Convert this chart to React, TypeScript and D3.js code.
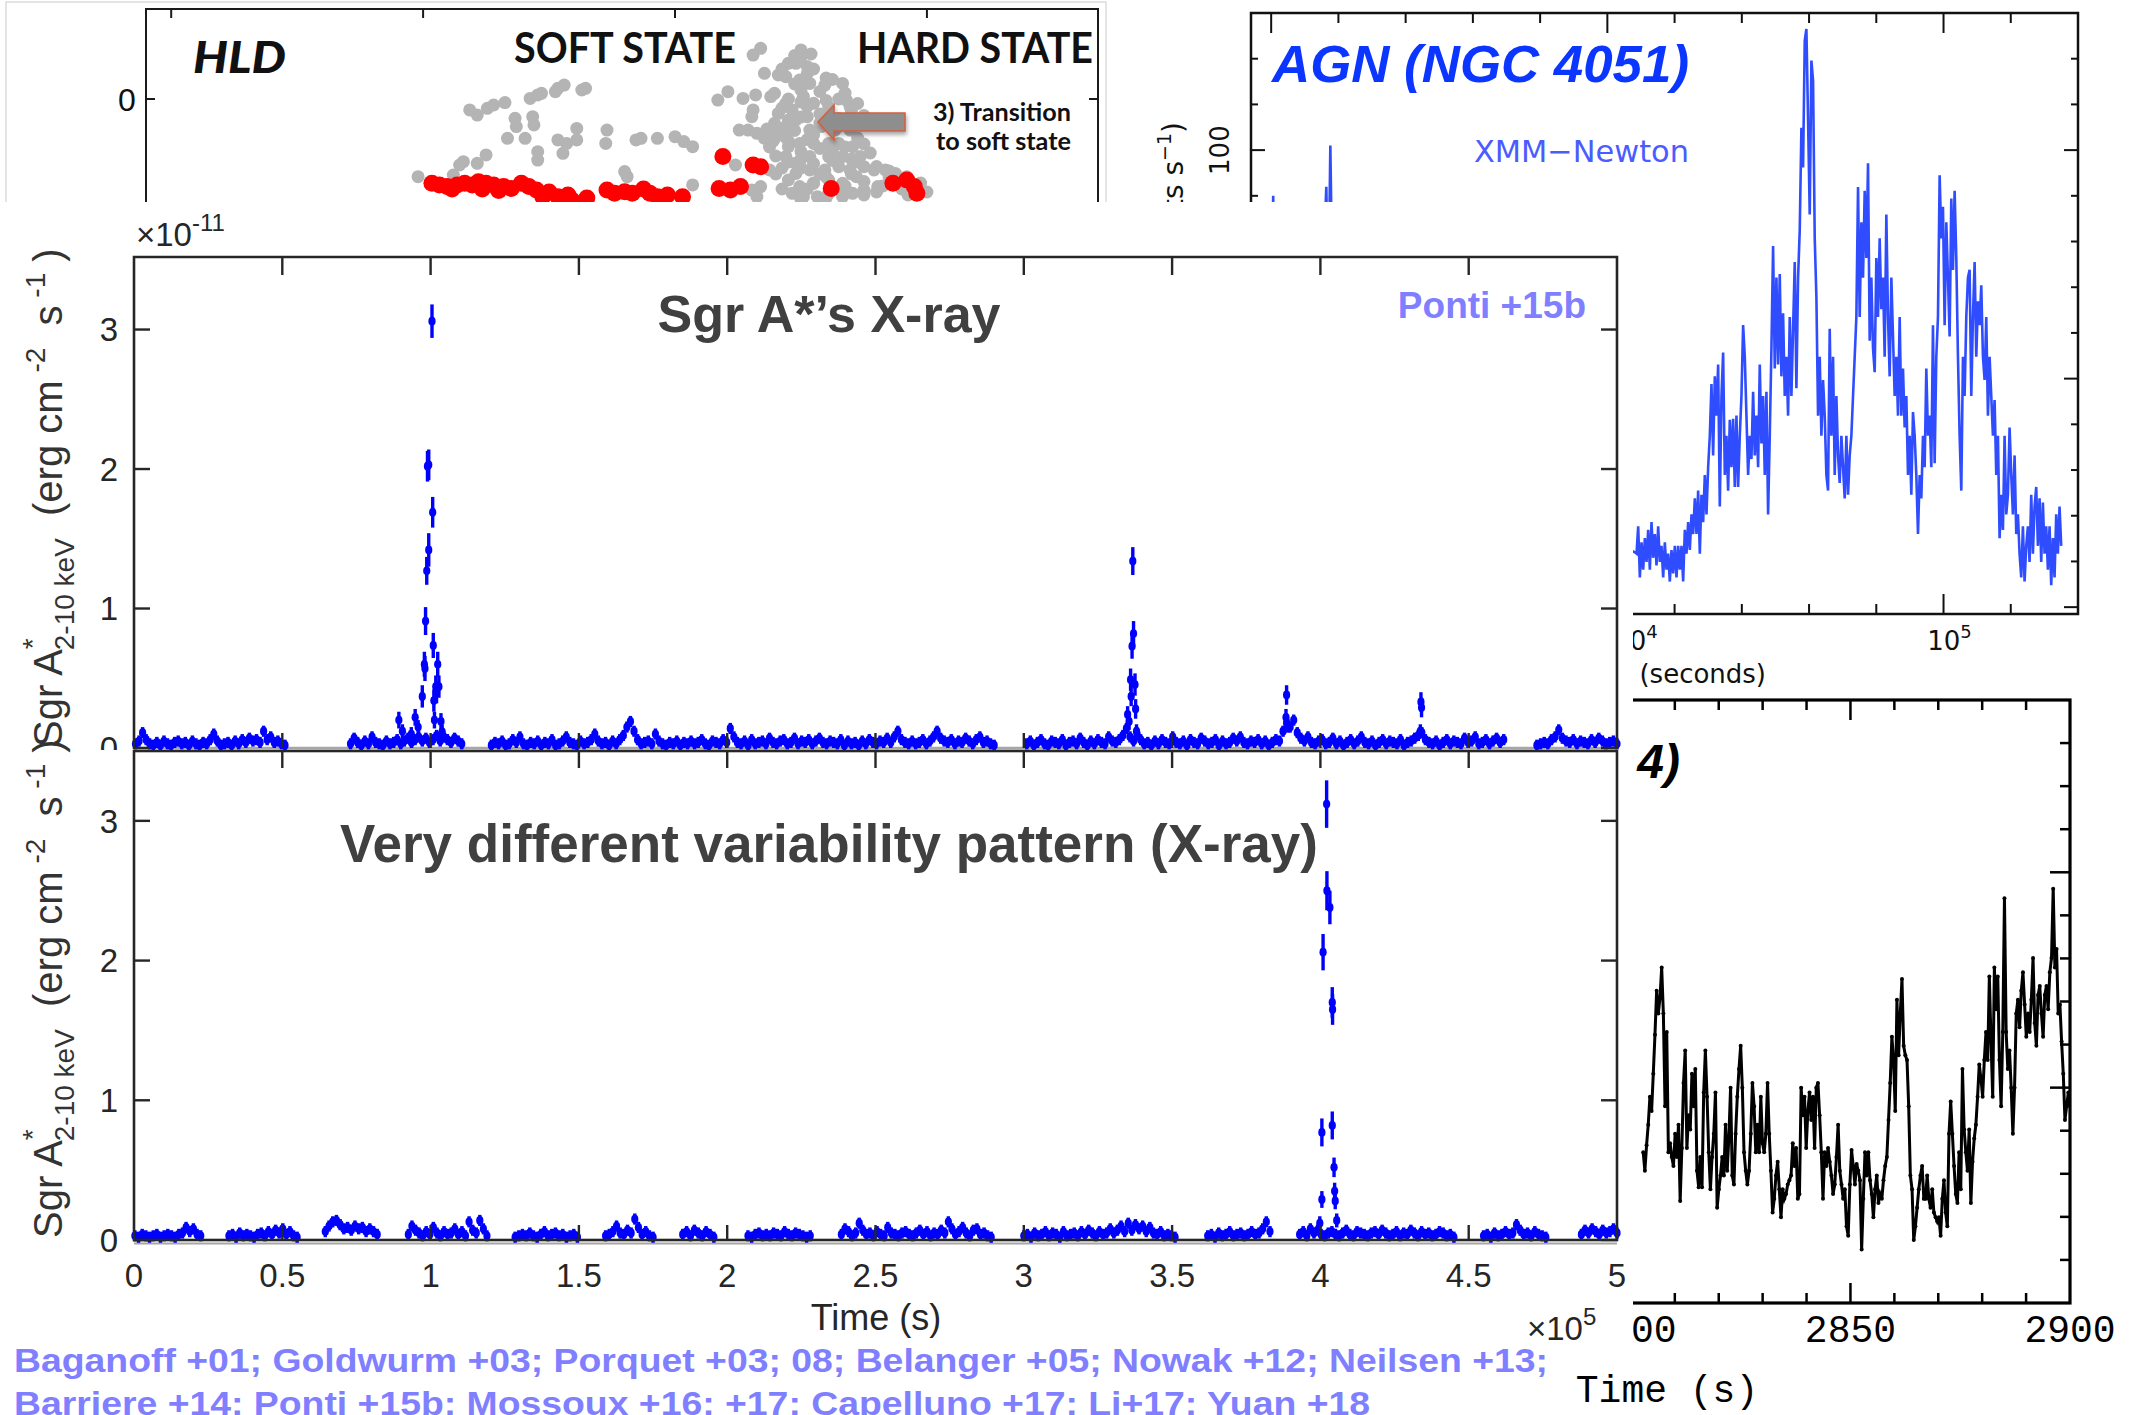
import React from "react";
import * as d3 from "d3";

const W = 2138;
const H = 1415;
const SANS = "'Liberation Sans', Arial, Helvetica, sans-serif";
const DEJAVU = "'DejaVu Sans', Verdana, sans-serif";
const MONO = "'Liberation Mono', 'DejaVu Sans Mono', monospace";
const LATO = "Lato, 'Open Sans', sans-serif";

// ---------------- Panel 1: hardness–luminosity diagram (HLD) ----------------
const HLD_X_TICKS = [0.2, 0.4, 0.6, 0.8];
const HLD_Y_TICKS = [0];
// [hardness, log intensity]
const HLD_GRAY: [number, number][] = [
  [0.396, -0.518], [0.424, -0.507], [0.429, -0.44], [0.432, -0.418], [0.443, -0.429], [0.45, -0.373],
  [0.437, -0.073], [0.443, -0.107], [0.451, -0.062], [0.456, -0.04], [0.465, -0.024], [0.473, -0.129],
  [0.474, -0.184], [0.467, -0.262], [0.481, -0.262], [0.487, -0.118], [0.488, -0.173], [0.491, -0.351],
  [0.491, -0.407], [0.485, 0.004], [0.491, 0.027], [0.494, 0.038], [0.505, 0.049], [0.507, 0.071],
  [0.512, 0.093], [0.526, 0.06], [0.529, 0.071], [0.507, -0.273], [0.514, -0.296], [0.522, -0.196],
  [0.522, -0.273], [0.511, -0.362], [0.546, -0.207], [0.545, -0.296], [0.569, -0.273], [0.573, -0.262],
  [0.586, -0.262], [0.6, -0.251], [0.607, -0.284], [0.614, -0.318], [0.56, -0.484], [0.562, -0.518],
  [0.614, -0.573], [0.634, -0.007], [0.642, 0.049], [0.654, 0.004], [0.662, 0.293], [0.668, 0.338],
  [0.671, 0.171], [0.664, 0.027], [0.662, -0.073], [0.661, -0.118], [0.651, -0.207], [0.658, -0.207],
  [0.665, -0.229], [0.671, -0.262], [0.679, -0.262], [0.675, -0.473], [0.668, -0.584], [0.661, -0.607],
  [0.665, -0.651], [0.648, -0.44],
  [0.70, 0.327], [0.69, 0.238], [0.696, 0.238], [0.705, 0.216], [0.682, 0.16], [0.688, 0.149],
  [0.699, 0.127], [0.707, 0.104], [0.719, 0.093], [0.733, 0.104], [0.679, 0.038], [0.676, 0.016],
  [0.688, -0.029], [0.693, -0.073], [0.702, 0.016], [0.71, -0.029], [0.722, -0.051], [0.736, -0.007],
  [0.739, -0.051], [0.741, -0.14], [0.682, -0.096], [0.679, -0.162], [0.688, -0.184], [0.696, -0.14],
  [0.705, -0.118], [0.707, -0.207], [0.716, -0.184], [0.727, -0.207], [0.739, -0.207], [0.741, -0.318],
  [0.73, -0.296], [0.722, -0.296], [0.71, -0.296], [0.699, -0.296], [0.69, -0.318], [0.688, -0.384],
  [0.696, -0.429], [0.707, -0.384], [0.722, -0.384], [0.733, -0.384], [0.747, -0.384], [0.75, -0.451],
  [0.739, -0.473], [0.73, -0.451], [0.719, -0.473], [0.707, -0.473], [0.696, -0.496], [0.69, -0.54],
  [0.699, -0.584], [0.71, -0.562], [0.722, -0.54], [0.733, -0.562], [0.744, -0.518], [0.758, -0.473],
  [0.767, -0.473], [0.775, -0.496], [0.784, -0.518], [0.693, -0.629], [0.702, -0.651], [0.713, -0.651],
  [0.722, -0.629], [0.733, -0.651], [0.741, -0.629], [0.75, -0.607], [0.761, -0.584], [0.778, -0.562],
  [0.792, -0.584],
  [0.695, 0.10], [0.715, 0.05], [0.73, 0.0], [0.70, -0.02], [0.685, -0.06], [0.715, -0.10], [0.73, -0.13],
  [0.695, -0.21], [0.71, -0.24], [0.745, -0.26], [0.70, -0.35], [0.725, -0.34], [0.745, -0.42],
  [0.71, -0.43], [0.68, -0.50], [0.72, -0.52], [0.75, -0.55], [0.77, -0.52], [0.705, -0.60],
  [0.73, -0.60], [0.76, -0.62], [0.78, -0.60], [0.69, -0.42], [0.687, -0.25], [0.675, -0.32],
  [0.74, -0.08], [0.725, 0.13], [0.705, 0.17], [0.70, 0.28], [0.708, 0.30],
  [0.685, 0.2], [0.71, 0.2], [0.72, 0.14], [0.70, 0.06], [0.69, 0.0], [0.705, -0.05], [0.72, -0.01],
  [0.735, 0.04], [0.745, -0.03], [0.75, -0.11], [0.73, -0.18], [0.715, -0.16], [0.70, -0.12], [0.69, -0.14],
  [0.68, -0.22], [0.69, -0.28], [0.705, -0.27], [0.715, -0.33], [0.735, -0.32], [0.75, -0.3], [0.755, -0.36],
  [0.74, -0.4], [0.725, -0.41], [0.70, -0.4], [0.685, -0.46], [0.70, -0.46], [0.715, -0.5], [0.74, -0.5],
  [0.76, -0.45], [0.77, -0.48], [0.78, -0.55], [0.765, -0.58], [0.75, -0.64], [0.72, -0.66], [0.70, -0.67],
  [0.685, -0.6], [0.71, -0.56], [0.735, -0.58], [0.795, -0.56], [0.8, -0.62], [0.785, -0.64], [0.68, -0.38],
  [0.678, -0.28], [0.673, -0.2], [0.695, 0.29],
];
const HLD_RED: [number, number][] = [
  [0.407, -0.562], [0.413, -0.573], [0.419, -0.584], [0.427, -0.573], [0.433, -0.562], [0.439, -0.573],
  [0.444, -0.551], [0.45, -0.562], [0.456, -0.573], [0.464, -0.584], [0.47, -0.596], [0.478, -0.562],
  [0.484, -0.584], [0.49, -0.607], [0.495, -0.651], [0.507, -0.651], [0.515, -0.64], [0.518, -0.673],
  [0.546, -0.607], [0.552, -0.629], [0.56, -0.618], [0.566, -0.629], [0.58, -0.629], [0.586, -0.651],
  [0.594, -0.64], [0.606, -0.651], [0.638, -0.384], [0.662, -0.44], [0.668, -0.451], [0.635, -0.596],
  [0.644, -0.607], [0.652, -0.584], [0.724, -0.596], [0.773, -0.562], [0.784, -0.54], [0.79, -0.584],
  [0.792, -0.629], [0.423, -0.6], [0.447, -0.6], [0.46, -0.61], [0.5, -0.62], [0.53, -0.66], [0.575, -0.6],
];

// ---------------- Panel 2: AGN (NGC 4051) light curve ----------------
const AGN_X_TICKS = [0, 10, 20, 30, 40, 50, 60, 70, 80, 90, 100, 110]; // ks
const AGN_X_MAJOR = [0, 50, 100];
const AGN_Y_TICKS = [0, 10, 20, 30, 40, 50, 60, 70, 80, 90, 100, 110, 120];
const AGN_Y_MAJOR = [0, 50, 100];
// [time (ks), count rate]
const AGN_EARLY: [number, number][] = [
  [-2.9, 60], [-1.5, 72], [0.0, 66], [0.3, 90], [0.6, 64], [1.5, 58], [3, 70], [4.5, 55], [6, 62],
  [7.5, 68], [7.9, 80], [8.2, 92], [8.5, 66], [8.8, 101], [9.1, 70], [11, 60], [14, 64], [18, 55],
  [22, 52], [26, 46], [30, 42], [34, 38], [38, 30], [42, 26], [46, 20], [50, 15], [54.1, 12],
];
const AGN_MAIN_START = 54.34; // ks, first bin of the evenly binned part
const AGN_MAIN_BIN = 0.2477; // ks
const AGN_MAIN_RATE = [
  11.7, 17.7, 6.5, 14.2, 8.2, 15.1, 9.9, 16.9, 8.2, 18.6, 10.8, 16.0, 9.1, 17.7, 9.9, 13.4, 6.5, 14.2, 8.2, 11.7,
  5.6, 12.5, 7.4, 13.4, 6.5, 13.4, 8.2, 13.4, 5.6, 16.9, 11.7, 18.6, 12.5, 20.3, 16.0, 23.8, 16.0, 25.5, 11.7, 24.6,
  18.6, 28.9, 20.3, 30.6, 37.5, 48.8, 33.2, 50.5, 41.9, 53.1, 22.0, 46.2, 55.7, 28.9, 37.5, 25.5, 41.0, 30.6, 41.2, 26.3,
  41.9, 26.3, 37.5, 46.2, 61.7, 54.8, 41.9, 28.9, 37.5, 32.4, 47.1, 33.2, 41.9, 30.6, 53.1, 35.8, 46.2, 28.9, 47.1, 20.3,
  37.5, 56.6, 79.0, 52.2, 72.1, 53.1, 72.9, 50.5, 64.3, 46.2, 54.8, 41.9, 63.5, 46.2, 60.9, 75.5, 47.9, 72.1, 82.5, 104.9,
  96.2, 123.9, 126.5, 106.6, 85.9, 119.6, 115.2, 80.7, 67.8, 41.9, 54.8, 37.5, 49.7, 41.9, 28.9, 25.5, 60.9, 37.5, 54.8, 28.9,
  46.2, 33.2, 27.2, 37.5, 30.6, 23.8, 37.5, 24.6, 33.2, 37.5, 46.2, 54.8, 63.5, 91.9, 63.5, 84.2, 72.1, 91.1, 76.4, 97.1,
  58.3, 72.1, 56.6, 51.4, 76.4, 63.5, 80.7, 65.2, 72.1, 54.8, 85.9, 63.5, 50.5, 72.1, 59.2, 46.2, 54.8, 41.9, 63.5, 41.9,
  52.2, 39.3, 46.2, 28.9, 37.5, 24.6, 42.7, 37.5, 28.9, 16.0, 28.9, 23.8, 37.5, 30.6, 52.2, 37.5, 41.9, 30.6, 61.7, 31.5,
  54.8, 63.5, 94.5, 80.7, 87.6, 61.7, 84.2, 72.1, 59.2, 89.4, 73.8, 91.1, 76.4, 54.8, 37.5, 25.5, 54.8, 46.2, 63.5, 72.1,
  73.8, 46.2, 63.5, 75.5, 54.8, 66.9, 61.7, 70.4, 54.8, 49.7, 63.5, 41.9, 54.8, 46.2, 37.5, 45.3, 28.9, 37.5, 15.1, 24.6,
  16.9, 37.5, 20.3, 24.6, 39.3, 28.9, 20.3, 33.2, 16.0, 20.3, 11.7, 6.5, 17.7, 5.6, 13.4, 17.7, 9.9, 24.6, 11.7, 22.0,
  26.3, 13.4, 23.8, 9.9, 22.9, 11.7, 17.7, 8.2, 17.7, 4.8, 15.1, 6.5, 20.3, 11.7, 22.0, 13.4,
];

// ---------------- Panel 3: X-ray binary light curve (black) ----------------
const GX_X_TICKS = [2800, 2810, 2820, 2830, 2840, 2850, 2860, 2870, 2880, 2890];
const GX_X_MAJOR = [2800, 2850, 2900];
const GX_X_LABELS = [2800, 2850, 2900];
const GX_Y_TICKS = [10, 20, 30, 40, 50, 60, 70, 80, 90, 100, 110, 120, 130];
const GX_Y_MAJOR = [50, 100];
const GX_T_START = 2802.8;
const GX_T_END = 2900;
const GX_VALUES = [
  35.0, 30.7, 36.6, 41.4, 47.9, 44.6, 53.2, 62.3, 72.5, 67.2, 70.9, 77.9, 67.2, 45.7, 62.9, 35.0, 37.1, 33.9, 31.8, 39.3,
  33.9, 41.4, 23.7, 36.0, 51.1, 58.6, 36.0, 43.6, 40.3, 53.2, 45.7, 54.3, 30.7, 26.9, 33.9, 26.9, 48.9, 58.6, 47.9, 35.0,
  26.4, 33.9, 39.3, 48.9, 22.1, 26.4, 29.6, 33.9, 29.6, 41.4, 30.7, 38.7, 50.0, 29.6, 27.5, 39.3, 47.9, 54.3, 59.7, 50.0,
  35.0, 30.7, 27.5, 30.7, 39.3, 51.1, 45.7, 35.0, 41.4, 35.0, 47.9, 37.1, 35.0, 39.3, 51.1, 39.3, 30.7, 21.0, 24.2, 29.6,
  32.8, 26.4, 19.9, 26.4, 24.2, 25.3, 27.5, 28.5, 29.6, 37.1, 31.8, 36.0, 24.2, 25.3, 50.0, 43.6, 47.9, 36.0, 44.6, 48.9,
  42.5, 47.9, 36.0, 50.0, 51.1, 43.6, 35.0, 24.2, 35.0, 31.8, 36.0, 32.8, 29.6, 25.3, 27.5, 33.9, 41.4, 30.7, 27.5, 24.2,
  26.4, 17.8, 15.6, 27.5, 35.5, 31.8, 27.5, 32.3, 30.7, 28.5, 12.4, 24.2, 35.0, 29.6, 35.0, 28.5, 25.3, 19.9, 26.4, 29.6,
  23.2, 25.3, 24.2, 28.5, 31.8, 33.9, 42.5, 51.1, 61.8, 56.4, 44.6, 70.4, 57.5, 67.2, 75.2, 59.7, 57.5, 56.4, 45.7, 29.6,
  26.4, 14.6, 17.8, 22.1, 26.4, 29.6, 31.8, 24.2, 24.2, 29.6, 24.2, 22.1, 26.4, 21.0, 19.9, 18.9, 19.9, 15.6, 24.2, 28.5,
  21.0, 17.8, 39.3, 46.8, 39.3, 31.8, 25.3, 23.2, 35.0, 26.4, 54.3, 40.3, 35.0, 30.7, 40.3, 23.2, 32.8, 38.2, 41.4, 47.9,
  55.4, 52.1, 47.9, 56.4, 62.9, 56.4, 75.8, 60.7, 47.9, 77.9, 68.2, 75.8, 56.4, 45.7, 62.9, 94.0, 62.9, 54.3, 58.6, 50.0,
  39.3, 50.0, 67.2, 70.4, 64.0, 72.5, 76.8, 69.3, 61.8, 67.2, 62.9, 70.4, 80.1, 65.0, 59.7, 71.5, 73.6, 67.2, 61.8, 71.5,
  73.6, 68.2, 76.8, 80.1, 96.2, 77.9, 82.2, 67.2, 69.3, 60.7, 53.2, 42.5, 45.7, 48.9, 45.7,
];

// ---------------- Main: Sgr A* X-ray light curves ----------------
const MAIN_X_TICKS = [0, 0.5, 1, 1.5, 2, 2.5, 3, 3.5, 4, 4.5, 5];
const MAIN_X_LABELS = ["0", "0.5", "1", "1.5", "2", "2.5", "3", "3.5", "4", "4.5", "5"];
const MAIN_Y_TICKS = [0, 1, 2, 3];
const BASE_ERR = 0.04; // typical 1-sigma error of quiescent bins (1e-11 units)

// observation windows (time in 1e5 s) and quiescent fluxes (in 0.01 x 1e-11 erg cm-2 s-1)
const TOP_SEGMENTS: [number, number][] = [[0.005, 0.509], [0.73, 1.105], [1.205, 2.9], [3.01, 4.618], [4.73, 5.0]];
const TOP_BASE: number[][] = [
  [3, 5, 11, 6, 3, 2, 4, 2, 5, 3, 2, 4, 5, 3, 4, 2, 5, 3, 2, 4, 3, 6, 10, 5, 2, 3, 4, 2, 5, 3, 6, 4, 7, 5, 6, 4, 12, 6, 8, 4, 5, 3, 2],
  [3, 7, 4, 2, 5, 3, 8, 4, 3, 2, 5, 3, 4, 6, 3, 5, 7, 4, 6, 8, 5, 7, 4, 6, 9, 5, 8, 6, 4, 7, 5, 3],
  [2, 4, 3, 5, 2, 3, 6, 4, 8, 3, 2, 4, 3, 5, 2, 4, 3, 6, 2, 3, 5, 8, 4, 3, 2, 5, 3, 4, 6, 10, 5, 3, 4, 2, 5, 3, 6,
    9, 15, 19, 12, 6, 3, 4, 5, 3, 10, 5, 3, 2, 4, 3, 5, 2, 4, 3, 5, 3, 4, 6, 3, 2, 5, 4, 3, 6, 4, 14, 8, 4, 3, 5, 2,
    6, 3, 4, 5, 3, 7, 4, 3, 5, 6, 3, 4, 7, 3, 5, 4, 6, 3, 5, 7, 4, 3, 5, 4, 3, 6, 2, 5, 3, 4, 2, 5, 3, 6, 4, 3, 5, 4,
    7, 4, 8, 12, 6, 4, 3, 5, 3, 4, 6, 3, 5, 8, 12, 7, 5, 4, 6, 3, 5, 4, 7, 5, 3, 6, 8, 4, 5, 3, 2],
  [3, 5, 2, 4, 6, 3, 2, 5, 4, 3, 6, 2, 4, 5, 3, 7, 4, 2, 5, 3, 6, 4, 3, 8, 5, 4, 6, 9, 14, 8, 5, 10, 6, 3, 4, 2, 5,
    3, 6, 4, 3, 8, 4, 3, 5, 2, 6, 4, 3, 7, 5, 3, 4, 6, 2, 5, 3, 4, 7, 5, 8, 4, 3, 5, 4, 6, 3, 5, 2, 4, 6, 5, 12, 18,
    15, 20, 11, 7, 5, 8, 4, 3, 5, 6, 3, 4, 7, 3, 5, 2, 4, 6, 3, 5, 8, 4, 3, 5, 2, 4, 6, 3, 5, 4, 3, 6, 2, 4, 5, 7, 9,
    11, 6, 4, 3, 5, 2, 4, 6, 3, 5, 4, 3, 7, 4, 5, 8, 3, 4, 6, 3, 5, 7, 4, 6],
  [2, 3, 4, 3, 6, 8, 13, 7, 5, 4, 6, 3, 5, 4, 3, 6, 4, 7, 5, 3, 4, 5, 3],
];
// flare bins: [time (1e5 s), flux (1e-11), error]
const TOP_FLARES: [number, number, number][] = [
  [0.893, 0.2, 0.06], [0.905, 0.12, 0.05], [0.935, 0.1, 0.05], [0.948, 0.22, 0.06], [0.958, 0.15, 0.05],
  [0.972, 0.37, 0.08], [0.979, 0.6, 0.09], [0.981, 0.57, 0.09], [0.983, 0.91, 0.1], [0.987, 1.27, 0.1],
  [0.9895, 2.02, 0.11], [0.9937, 1.42, 0.12], [0.9937, 2.03, 0.11], [1.0047, 3.06, 0.12], [1.007, 1.69, 0.11],
  [1.009, 0.735, 0.09], [1.011, 0.34, 0.08], [1.013, 0.2, 0.06], [1.0175, 0.44, 0.08], [1.02, 0.4, 0.08],
  [1.024, 0.6, 0.09], [1.028, 0.44, 0.08], [1.035, 0.19, 0.06], [1.039, 0.115, 0.05],
  [3.3675, 1.34, 0.1], [3.37, 0.82, 0.09], [3.365, 0.73, 0.09], [3.36, 0.49, 0.08], [3.375, 0.455, 0.08],
  [3.362, 0.37, 0.07], [3.377, 0.28, 0.07], [3.35, 0.24, 0.06], [3.355, 0.19, 0.06], [3.38, 0.12, 0.05],
  [3.886, 0.38, 0.07], [3.884, 0.22, 0.06], [3.89, 0.16, 0.05],
  [4.339, 0.33, 0.07], [4.341, 0.29, 0.07], [4.337, 0.12, 0.05],
];
const BOT_SEGMENTS: [number, number][] = [
  [0.003, 0.225], [0.32, 0.55], [0.645, 0.82], [0.925, 1.19], [1.285, 1.495], [1.59, 1.75], [1.85, 1.955],
  [2.07, 2.28], [2.385, 2.89], [3.0, 3.51], [3.62, 3.83], [3.93, 4.45], [4.55, 4.76], [4.88, 5.0],
];
const BOT_BASE: number[][] = [
  [3, 2, 4, 3, 2, 3, 4, 2, 3, 4, 3, 2, 4, 5, 9, 6, 8, 4, 3],
  [3, 4, 2, 5, 3, 4, 3, 2, 4, 5, 3, 6, 4, 7, 5, 8, 4, 6, 3, 2],
  [6, 10, 13, 14, 11, 8, 9, 7, 10, 8, 9, 6, 8, 6, 4],
  [4, 10, 7, 5, 3, 6, 4, 9, 5, 3, 6, 4, 5, 8, 4, 6, 3, 13, 7, 5, 14, 8, 3],
  [2, 3, 4, 3, 5, 3, 2, 4, 6, 3, 4, 5, 3, 4, 2, 3, 4, 2],
  [3, 4, 6, 10, 5, 4, 7, 5, 15, 9, 4, 6, 3, 2],
  [4, 6, 3, 7, 5, 3, 6, 4, 2],
  [3, 2, 4, 5, 3, 4, 3, 5, 4, 3, 6, 4, 3, 5, 4, 3, 2, 3],
  [4, 8, 6, 3, 5, 12, 7, 4, 5, 3, 6, 4, 3, 9, 5, 4, 3, 5, 6, 4, 3, 5, 7, 4, 6, 3, 5, 4, 7, 5, 13, 8, 4, 6, 9, 5, 3, 7, 8, 4, 5, 3, 2],
  [3, 4, 2, 5, 3, 4, 6, 3, 5, 4, 2, 6, 3, 4, 5, 3, 6, 4, 7, 5, 3, 6, 4, 5, 8, 5, 7, 10, 6, 12, 7, 11, 8, 10, 6, 9, 5, 4, 6, 3, 4, 3, 2],
  [3, 4, 2, 5, 3, 4, 6, 3, 4, 5, 3, 4, 6, 4, 5, 8, 13, 6],
  [4, 6, 3, 8, 5, 7, 4, 3, 5, 6, 4, 3, 5, 7, 4, 3, 6, 5, 4, 3, 5, 6, 4, 7, 5, 3, 4, 6, 3, 5, 4, 7, 5, 3, 6, 4, 5, 3, 4, 6, 5, 3, 4, 2],
  [3, 4, 2, 5, 3, 4, 6, 4, 5, 11, 7, 4, 5, 3, 6, 4, 3, 2],
  [4, 7, 5, 8, 6, 4, 7, 5, 6, 8, 5],
];
const BOT_FLARES: [number, number, number][] = [
  [4.021, 3.12, 0.17], [4.022, 2.5, 0.14], [4.032, 2.38, 0.12], [4.009, 2.06, 0.13], [4.04, 1.7, 0.11],
  [4.041, 1.65, 0.11], [4.005, 0.77, 0.1], [4.04, 0.82, 0.1], [4.046, 0.52, 0.07], [4.048, 0.35, 0.06],
  [4.05, 0.28, 0.06], [4.005, 0.29, 0.06], [4.055, 0.14, 0.05], [3.998, 0.12, 0.05],
];

const CITATION_1 = "Baganoff +01; Goldwurm +03; Porquet +03; 08; Belanger +05; Nowak +12; Neilsen +13;";
const CITATION_2 = "Barriere +14; Ponti +15b; Mossoux +16; +17; Capelluno +17; Li+17; Yuan +18";

// ---------------------------------------------------------------------------
type Pt = { t: number; v: number; e: number };

function expand(segs: [number, number][], bases: number[][]): Pt[] {
  const out: Pt[] = [];
  segs.forEach(([a, b], si) => {
    const vals = bases[si];
    const n = vals.length;
    vals.forEach((h, i) => {
      out.push({ t: a + ((b - a) * i) / (n - 1), v: h / 100, e: BASE_ERR });
    });
  });
  return out;
}

const BLUE = "#0000ff";
const AX = "#262626";

function ErrPoints({ pts, x, y }: { pts: Pt[]; x: d3.ScaleLinear<number, number>; y: d3.ScaleLinear<number, number> }) {
  return (
    <g>
      {pts.map((p, i) => {
        const cx = x(p.t);
        return (
          <g key={i}>
            <line x1={cx} x2={cx} y1={y(Math.max(p.v - p.e, -0.02))} y2={y(p.v + p.e)} stroke={BLUE} strokeWidth={3.4} />
            <ellipse cx={cx} cy={y(p.v)} rx={3.6} ry={4.4} fill={BLUE} />
          </g>
        );
      })}
    </g>
  );
}

function SgrLabel({ x, y }: { x: number; y: number }) {
  return (
    <text transform={`translate(${x},${y}) rotate(-90)`} fontFamily={SANS} fontSize={40} fill="#333" style={{ whiteSpace: "pre" }}>
      <tspan>{"Sgr A"}</tspan>
      <tspan fontSize={28} dy={-20}>{"*"}</tspan>
      <tspan fontSize={28} dx={-12} dy={32}>{"2-10 keV"}</tspan>
      <tspan fontSize={40} dy={-12}>{"  (erg cm"}</tspan>
      <tspan fontSize={28} dy={-17}>{" -2"}</tspan>
      <tspan fontSize={40} dy={17}>{"  s"}</tspan>
      <tspan fontSize={28} dy={-17}>{" -1"}</tspan>
      <tspan fontSize={40} dy={17}>{" )"}</tspan>
    </text>
  );
}

export default function App() {
  // ----- HLD scales
  const hx = d3.scaleLinear().domain([0.18, 0.939]).range([146, 1102]);
  const hy = d3.scaleLinear().domain([0.6, -2.2]).range([9, 429]);

  // ----- AGN scales
  const ax = d3.scaleLinear().domain([-3, 120]).range([1251, 2078]);
  const ay = d3.scaleLinear().domain([-1.5, 130]).range([614, 13]);
  const agnData: [number, number][] = [
    ...AGN_EARLY,
    ...AGN_MAIN_RATE.map((r, i) => [AGN_MAIN_START + i * AGN_MAIN_BIN, r] as [number, number]),
  ];
  const agnLine = d3.line<[number, number]>().x((d) => ax(d[0])).y((d) => ay(d[1]));

  // ----- GX scales
  const gx = d3.scaleLinear().domain([2790, 2900]).range([1587, 2070]);
  const gy = d3.scaleLinear().domain([0, 140]).range([1303, 700]);
  const gxData: [number, number][] = GX_VALUES.map(
    (v, i) => [GX_T_START + ((GX_T_END - GX_T_START) * i) / (GX_VALUES.length - 1), v] as [number, number]
  );
  const gxLine = d3.line<[number, number]>().x((d) => gx(d[0])).y((d) => gy(d[1]));

  // ----- main scales
  const mx = d3.scaleLinear().domain([0, 5]).range([134, 1617]);
  const yTop = d3.scaleLinear().domain([0, 3.52]).range([748, 257]);
  const yBot = d3.scaleLinear().domain([0, 3.5]).range([1240, 751]);
  const topPts = [...expand(TOP_SEGMENTS, TOP_BASE), ...TOP_FLARES.map(([t, v, e]) => ({ t, v, e }))];
  const botPts = [...expand(BOT_SEGMENTS, BOT_BASE), ...BOT_FLARES.map(([t, v, e]) => ({ t, v, e }))];

  const [mx0, mx1] = mx.range();

  return (
    <svg width={W} height={H} viewBox={`0 0 ${W} ${H}`} style={{ position: "absolute", left: 0, top: 0, display: "block", background: "#fff" }}>
      <defs>
        <clipPath id="agnClip"><rect x={1251} y={13} width={827} height={601} /></clipPath>
        <clipPath id="gxClip"><rect x={1587} y={700} width={483} height={603} /></clipPath>
        <clipPath id="gxLabelClip"><rect x={1633} y={1300} width={505} height={115} /></clipPath>
        <filter id="shadow" x="-20%" y="-20%" width="140%" height="160%">
          <feDropShadow dx="1" dy="3" stdDeviation="2" floodColor="#000" floodOpacity="0.35" />
        </filter>
      </defs>
      <rect x={0} y={0} width={W} height={H} fill="#fff" />

      {/* ================= HLD panel ================= */}
      <rect x={6} y={2} width={1100} height={210} fill="none" stroke="#dcdcdc" strokeWidth={1.5} />
      <g>
        {HLD_GRAY.map((d, i) => (
          <circle key={"g" + i} cx={hx(d[0])} cy={hy(d[1])} r={6.5} fill="#b4b4b4" />
        ))}
        {HLD_RED.map((d, i) => (
          <circle key={"r" + i} cx={hx(d[0])} cy={hy(d[1])} r={8.5} fill="#ff0000" />
        ))}
        <path d="M146,430 L146,9 L1098,9 L1098,430" fill="none" stroke="#1a1a1a" strokeWidth={2} />
        {HLD_X_TICKS.map((t) => (
          <line key={t} x1={hx(t)} x2={hx(t)} y1={9} y2={18} stroke="#1a1a1a" strokeWidth={2} />
        ))}
        {HLD_Y_TICKS.map((t) => (
          <g key={t}>
            <line x1={146} x2={155} y1={hy(t)} y2={hy(t)} stroke="#1a1a1a" strokeWidth={2} />
            <line x1={1089} x2={1098} y1={hy(t)} y2={hy(t)} stroke="#1a1a1a" strokeWidth={2} />
            <text x={127} y={hy(t)} dy="0.36em" textAnchor="middle" fontFamily={SANS} fontSize={32} fill="#111">{t}</text>
          </g>
        ))}
        <text x={193} y={73} fontFamily={LATO} fontWeight={900} fontStyle="italic" fontSize={44} textLength={93} lengthAdjust="spacingAndGlyphs" fill="#111">HLD</text>
        <text x={514} y={63} fontFamily={LATO} fontWeight={700} fontSize={42} textLength={222} lengthAdjust="spacingAndGlyphs" fill="#111">SOFT STATE</text>
        <text x={857} y={63} fontFamily={LATO} fontWeight={700} fontSize={42} textLength={236} lengthAdjust="spacingAndGlyphs" fill="#111">HARD STATE</text>
        <text x={933} y={121} fontFamily={LATO} fontWeight={700} fontSize={24} textLength={138} lengthAdjust="spacingAndGlyphs" fill="#111">3) Transition</text>
        <text x={936} y={150} fontFamily={LATO} fontWeight={700} fontSize={24} textLength={135} lengthAdjust="spacingAndGlyphs" fill="#111">to soft state</text>
        <polygon points="818,122 834,105 834,113 905,113 905,131 834,131 834,140" fill="#8e8e8e" stroke="#d3603f" strokeWidth={1.6} filter="url(#shadow)" />
      </g>

      {/* ================= AGN panel ================= */}
      <g>
        <path d={agnLine(agnData) || ""} fill="none" stroke="#2f4dff" strokeWidth={2.6} strokeLinejoin="miter" clipPath="url(#agnClip)" />
        <rect x={1251} y={13} width={827} height={601} fill="none" stroke="#111" strokeWidth={2.5} />
        {AGN_X_TICKS.map((t) => {
          const len = AGN_X_MAJOR.includes(t) ? 20 : 10;
          return (
            <g key={t}>
              <line x1={ax(t)} x2={ax(t)} y1={13} y2={13 + len} stroke="#111" strokeWidth={2} />
              <line x1={ax(t)} x2={ax(t)} y1={614} y2={614 - len} stroke="#111" strokeWidth={2} />
            </g>
          );
        })}
        {AGN_Y_TICKS.map((r) => {
          const len = AGN_Y_MAJOR.includes(r) ? 14 : 7;
          return (
            <g key={r}>
              <line x1={1251} x2={1251 + len} y1={ay(r)} y2={ay(r)} stroke="#111" strokeWidth={2} />
              <line x1={2078} x2={2078 - len} y1={ay(r)} y2={ay(r)} stroke="#111" strokeWidth={2} />
            </g>
          );
        })}
        {AGN_Y_MAJOR.map((r) => (
          <text key={r} transform={`translate(1229,${ay(r)}) rotate(-90)`} textAnchor="middle" fontFamily={DEJAVU} fontSize={26} fill="#111">{r}</text>
        ))}
        <text transform="translate(1183,122) rotate(-90)" textAnchor="end" fontFamily={DEJAVU} fontSize={28} fill="#111">
          <tspan>{"Rate (counts s"}</tspan>
          <tspan fontSize={19} dy={-12}>{"\u22121"}</tspan>
          <tspan dy={12}>{")"}</tspan>
        </text>
        <text x={ax(50) + 9} y={650} textAnchor="middle" fontFamily={DEJAVU} fontSize={26} fill="#111">
          {"5\u00d710"}<tspan fontSize={18} dy={-12}>4</tspan>
        </text>
        <text x={ax(100) + 6} y={650} textAnchor="middle" fontFamily={DEJAVU} fontSize={26} fill="#111">
          {"10"}<tspan fontSize={18} dy={-12}>5</tspan>
        </text>
        <text x={1766} y={683} textAnchor="end" fontFamily={DEJAVU} fontSize={26} fill="#111">Time (seconds)</text>
        <text x={1272} y={82} fontFamily={SANS} fontWeight={700} fontStyle="italic" fontSize={51} textLength={417} lengthAdjust="spacingAndGlyphs" fill="#0b36ff">AGN (NGC 4051)</text>
        <text x={1474} y={162} fontFamily={DEJAVU} fontSize={31} textLength={215} lengthAdjust="spacingAndGlyphs" fill="#4b5cff">{"XMM\u2212Newton"}</text>
      </g>

      {/* ================= X-ray binary (black) panel ================= */}
      <g>
        <g clipPath="url(#gxClip)">
          <path d={gxLine(gxData) || ""} fill="none" stroke="#000" strokeWidth={3} strokeLinejoin="miter" />
          {gxData.map((d, i) => (
            <circle key={i} cx={gx(d[0])} cy={gy(d[1])} r={2} fill="#000" />
          ))}
        </g>
        <rect x={1587} y={700} width={483} height={603} fill="none" stroke="#000" strokeWidth={3.2} />
        {GX_X_TICKS.map((t) => {
          const len = GX_X_MAJOR.includes(t) ? 20 : 10;
          return (
            <g key={t}>
              <line x1={gx(t)} x2={gx(t)} y1={700} y2={700 + len} stroke="#000" strokeWidth={2.5} />
              <line x1={gx(t)} x2={gx(t)} y1={1303} y2={1303 - len} stroke="#000" strokeWidth={2.5} />
            </g>
          );
        })}
        {GX_Y_TICKS.map((v) => {
          const len = GX_Y_MAJOR.includes(v) ? 20 : 10;
          return (
            <g key={v}>
              <line x1={2070} x2={2070 - len} y1={gy(v)} y2={gy(v)} stroke="#000" strokeWidth={2.5} />
              <line x1={1587} x2={1587 + len} y1={gy(v)} y2={gy(v)} stroke="#000" strokeWidth={2.5} />
            </g>
          );
        })}
        <g clipPath="url(#gxLabelClip)">
          {GX_X_LABELS.map((t) => (
            <text key={t} x={gx(t)} y={1342} textAnchor="middle" fontFamily={MONO} fontSize={38} fill="#000">{t}</text>
          ))}
        </g>
        <text x={1667} y={1402} textAnchor="middle" fontFamily={MONO} fontSize={38} fill="#000">Time (s)</text>
        <text x={1680} y={778} textAnchor="end" fontFamily={SANS} fontWeight={700} fontStyle="italic" fontSize={48} fill="#000">4)</text>
      </g>

      {/* ================= Main Sgr A* figure ================= */}
      <rect x={0} y={202} width={1633} height={1148} fill="#fff" />

      {/* top panel */}
      <g>
        <line x1={mx0} x2={mx1} y1={748} y2={748} stroke="#a6a6a6" strokeWidth={2.5} />
        <ErrPoints pts={topPts} x={mx} y={yTop} />
        <path d={`M${mx0},749 L${mx0},257 L${mx1},257 L${mx1},749`} fill="none" stroke={AX} strokeWidth={2.6} />
        {MAIN_X_TICKS.slice(1, -1).map((t) => (
          <g key={t}>
            <line x1={mx(t)} x2={mx(t)} y1={257} y2={275} stroke={AX} strokeWidth={2.4} />
            <line x1={mx(t)} x2={mx(t)} y1={748} y2={733} stroke={AX} strokeWidth={2.4} />
          </g>
        ))}
        {MAIN_Y_TICKS.map((v) => (
          <g key={v}>
            <line x1={mx0} x2={mx0 + 16} y1={yTop(v)} y2={yTop(v)} stroke={AX} strokeWidth={2.4} />
            <line x1={mx1} x2={mx1 - 16} y1={yTop(v)} y2={yTop(v)} stroke={AX} strokeWidth={2.4} />
            <text x={118} y={yTop(v)} dy="0.36em" textAnchor="end" fontFamily={SANS} fontSize={33} fill={AX}>{v}</text>
          </g>
        ))}
        <text x={136} y={246} fontFamily={SANS} fontSize={33} fill={AX}>
          {"\u00d710"}<tspan fontSize={24} dy={-15}>-11</tspan>
        </text>
        <text x={829} y={332} textAnchor="middle" fontFamily={SANS} fontWeight={700} fontSize={52} fill="#404040">{"Sgr A*\u2019s X-ray"}</text>
        <text x={1586} y={318} textAnchor="end" fontFamily={SANS} fontWeight={700} fontSize={37} fill="#7f7fff">Ponti +15b</text>
        <SgrLabel x={62} y={747} />
      </g>

      {/* bottom panel */}
      <rect x={0} y={750} width={1633} height={600} fill="#fff" />
      <g>
        <line x1={mx0} x2={mx1} y1={1243.5} y2={1243.5} stroke="#a6a6a6" strokeWidth={2} />
        <ErrPoints pts={botPts} x={mx} y={yBot} />
        <rect x={mx0} y={751} width={mx1 - mx0} height={1240 - 751} fill="none" stroke={AX} strokeWidth={2.6} />
        {MAIN_X_TICKS.slice(1, -1).map((t) => (
          <g key={t}>
            <line x1={mx(t)} x2={mx(t)} y1={751} y2={768} stroke={AX} strokeWidth={2.4} />
            <line x1={mx(t)} x2={mx(t)} y1={1240} y2={1225} stroke={AX} strokeWidth={2.4} />
          </g>
        ))}
        {MAIN_Y_TICKS.map((v) => (
          <g key={v}>
            <line x1={mx0} x2={mx0 + 16} y1={yBot(v)} y2={yBot(v)} stroke={AX} strokeWidth={2.4} />
            <line x1={mx1} x2={mx1 - 16} y1={yBot(v)} y2={yBot(v)} stroke={AX} strokeWidth={2.4} />
            <text x={118} y={yBot(v)} dy="0.36em" textAnchor="end" fontFamily={SANS} fontSize={33} fill={AX}>{v}</text>
          </g>
        ))}
        {MAIN_X_TICKS.map((t, i) => (
          <text key={t} x={mx(t)} y={1287} textAnchor="middle" fontFamily={SANS} fontSize={33} fill={AX}>{MAIN_X_LABELS[i]}</text>
        ))}
        <text x={876} y={1330} textAnchor="middle" fontFamily={SANS} fontSize={36} fill={AX}>Time (s)</text>
        <text x={1527} y={1340} fontFamily={SANS} fontSize={33} fill={AX}>
          {"\u00d710"}<tspan fontSize={24} dy={-15}>5</tspan>
        </text>
        <text x={829} y={862} textAnchor="middle" fontFamily={SANS} fontWeight={700} fontSize={53} fill="#404040">Very different variability pattern (X-ray)</text>
        <SgrLabel x={62} y={1238} />
      </g>

      {/* citations */}
      <rect x={0} y={1345} width={1570} height={70} fill="#fff" />
      <text x={14} y={1372} fontFamily={SANS} fontWeight={700} fontSize={33} textLength={1534} lengthAdjust="spacingAndGlyphs" fill="#7f7fff">{CITATION_1}</text>
      <text x={14} y={1415} fontFamily={SANS} fontWeight={700} fontSize={33} textLength={1356} lengthAdjust="spacingAndGlyphs" fill="#7f7fff">{CITATION_2}</text>
    </svg>
  );
}
